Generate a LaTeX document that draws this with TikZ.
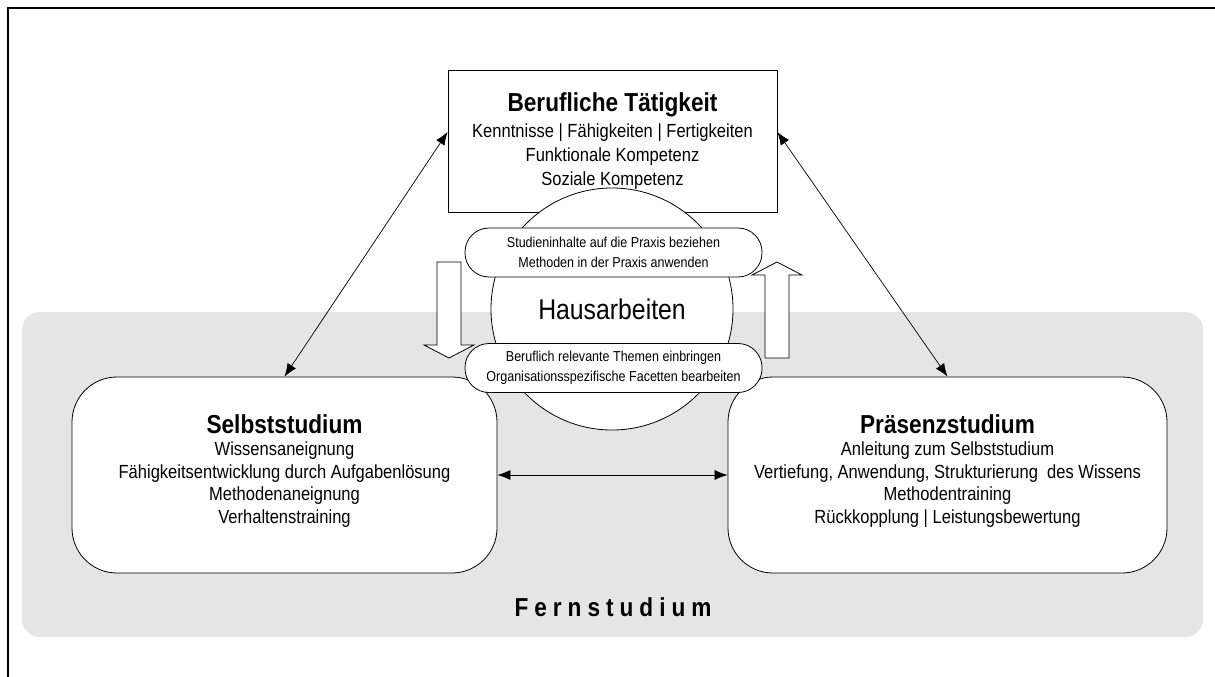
\documentclass[tikz,border=0pt]{standalone}
\usepackage{fontspec}
\setmainfont[FakeStretch=0.87]{Liberation Sans}
\usetikzlibrary{arrows.meta,calc}
\newcommand\ttlfnt{\fontsize{26}{30}\selectfont\bfseries}
\begin{document}
\begin{tikzpicture}[x=1pt,y=-1pt,
  boxline/.style={draw=black, line width=0.8pt, fill=white},
  bigbox/.style={boxline, rounded corners=45pt, minimum height=196pt, inner sep=0pt},
  bigtext/.style={align=center, inner sep=0pt, font=\fontsize{19}{22.5}\selectfont},
  pill/.style={boxline, rounded corners=24pt, minimum width=297pt, minimum height=49pt, inner sep=0pt, align=center, font=\fontsize{14.4}{20}\selectfont},
  blockarrow/.style={draw=black, line width=0.8pt, fill=white, line join=miter},
  dbl/.style={{Latex[length=13pt,width=10pt]}-{Latex[length=13pt,width=10pt]}, line width=0.7pt}]
\useasboundingbox (0,0) rectangle (1215,677);
% frame
\draw[line width=1.5pt] (8,677) -- (8,8) -- (1215,8);
% background
\node[fill=black!10, rounded corners=18pt, minimum width=1181pt, minimum height=325pt, inner sep=0pt] (bg) at (612.5,474.5) {};
\node[font=\fontsize{26}{30}\selectfont\bfseries] (fern) at (613,607) {F\kern6pt e\kern6pt r\kern6pt n\kern6pt s\kern6pt t\kern6pt u\kern6pt d\kern6pt i\kern6pt u\kern6pt m};
% top box
\node[boxline, minimum width=329pt, minimum height=142pt, inner sep=0pt, align=center, font=\fontsize{19}{24}\selectfont] (beruf) at (612.5,141)
  {{\ttlfnt Berufliche Tätigkeit}\\[2pt] Kenntnisse | Fähigkeiten | Fertigkeiten\\ Funktionale Kompetenz\\ Soziale Kompetenz};
% bottom boxes
\node[bigbox, minimum width=425pt] (selbst) at (284.5,475) {};
\node[bigtext] (selbstT) at ($(selbst.center)+(0,-4)$)
  {{\ttlfnt Selbststudium}\\ Wissensaneignung\\ Fähigkeitsentwicklung durch Aufgabenlösung\\ Methodenaneignung\\ Verhaltenstraining};
\node[bigbox, minimum width=439pt] (praes) at (947.5,475) {};
\node[bigtext] (praesT) at ($(praes.center)+(0,-4)$)
  {{\ttlfnt Präsenzstudium}\\ Anleitung zum Selbststudium\\ Vertiefung, Anwendung, Strukturierung~ des Wissens\\ Methodentraining\\ Rückkopplung | Leistungsbewertung};
% circle
\node[boxline, circle, minimum size=242pt, inner sep=0pt, font=\fontsize{28.5}{32}\selectfont] (haus) at (612,309) {Hausarbeiten};
% block arrows
\draw[blockarrow] (437,262) -- (461,262) -- (461,345) -- (474,345) -- (449,358) -- (424,345) -- (437,345) -- cycle;
\draw[blockarrow] (765,358) -- (789,358) -- (789,275) -- (802,275) -- (777,262) -- (752,275) -- (765,275) -- cycle;
% pills
\node[pill] (pillA) at (613.5,252.5) {Studieninhalte auf die Praxis beziehen\\ Methoden in der Praxis anwenden};
\node[pill] (pillB) at (613.5,368) {Beruflich relevante Themen einbringen\\ Organisationsspezifische Facetten bearbeiten};
% connectors
\draw[dbl] (selbst.north) -- ([yshift=9pt]beruf.west);
\draw[dbl] (praes.north) -- ([yshift=9pt]beruf.east);
\draw[dbl] (selbst.east) -- (praes.west);
\end{tikzpicture}
\end{document}
